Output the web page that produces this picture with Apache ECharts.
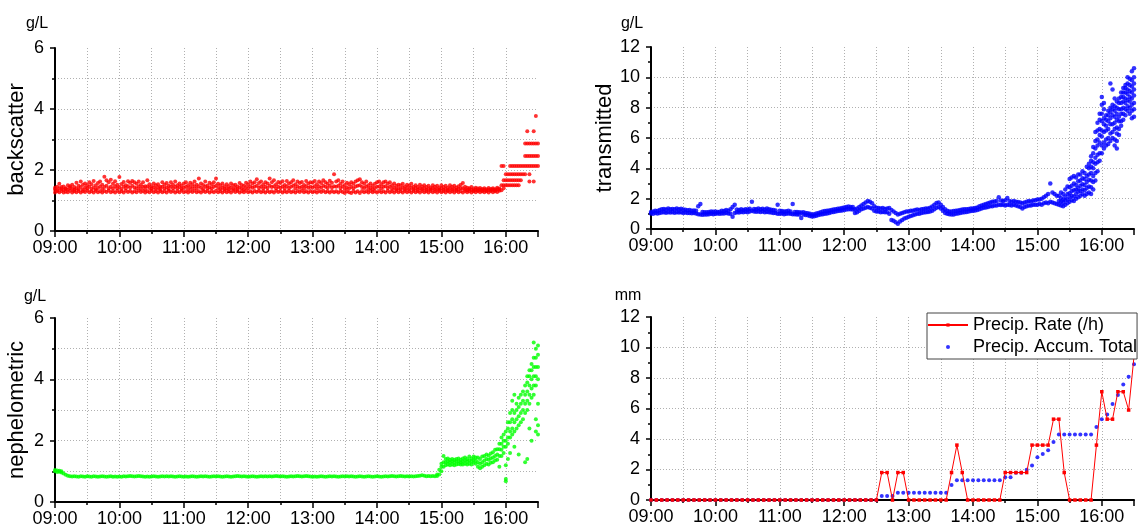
<!DOCTYPE html>
<html>
<head>
<meta charset="utf-8">
<title>Sensor readings and precipitation</title>
<script src="https://cdn.jsdelivr.net/npm/echarts@6/dist/echarts.min.js"></script>
<style>
  html, body { margin: 0; padding: 0; background: #fff; }
  #chart { width: 1142px; height: 529px; }
</style>
</head>
<body>
<div id="chart"></div>
<script>
// time is in minutes after midnight
const dayStart = 540;   // 09:00
const dayEnd = 990;     // 16:30
const cloudStep = 2;    // sensor readings: one column of points every 2 min
const precipStep = 5;   // precipitation readings every 5 min
const timeLabels = ['09:00', '10:00', '11:00', '12:00', '13:00', '14:00', '15:00', '16:00'];

// backscatter g/L, readings seen in each 2-min column from 09:00
const backscatter = [
  [1.26,1.36,1.42],[1.3,1.34,1.45],[1.27,1.4,1.55],[1.31,1.38,1.44],[1.26,1.35,1.46],[1.29,1.4,1.38],[1.27,1.36,1.5],[1.32,1.42,1.47],[1.26,1.38,1.52],[1.3,1.35,1.44],
  [1.27,1.4,1.58],[1.31,1.37,1.48],[1.26,1.44,1.62],[1.3,1.36,1.52],[1.28,1.42,1.56],[1.33,1.39,1.5],[1.27,1.45,1.6],[1.3,1.38,1.53],[1.26,1.43,1.64],[1.32,1.37,1.5],
  [1.27,1.41,1.57],[1.3,1.46,1.62],[1.26,1.38,1.52],[1.31,1.44,1.78],[1.28,1.48,1.66],[1.33,1.4,1.6],[1.27,1.45,1.68],[1.3,1.39,1.55],[1.26,1.47,1.63],[1.32,1.4,1.52],
  [1.27,1.44,1.77],[1.3,1.38,1.54],[1.26,1.46,1.61],[1.32,1.4,1.5],[1.28,1.47,1.63],[1.31,1.42,1.58],[1.26,1.48,1.64],[1.3,1.43,1.6],[1.27,1.4,1.55],[1.33,1.46,1.62],
  [1.28,1.39,1.52],[1.31,1.45,1.6],[1.26,1.37,1.47],[1.3,1.46,1.66],[1.27,1.41,1.53],[1.32,1.38,1.47],[1.27,1.43,1.56],[1.3,1.38,1.5],[1.26,1.42,1.53],[1.31,1.37,1.45],
  [1.27,1.45,1.6],[1.3,1.39,1.52],[1.26,1.43,1.57],[1.32,1.38,1.48],[1.28,1.46,1.6],[1.31,1.4,1.52],[1.26,1.45,1.62],[1.3,1.39,1.5],[1.27,1.44,1.56],[1.33,1.38,1.48],
  [1.27,1.42,1.56],[1.3,1.45,1.6],[1.26,1.38,1.5],[1.31,1.44,1.58],[1.28,1.4,1.53],[1.32,1.46,1.62],[1.27,1.39,1.52],[1.3,1.47,1.72],[1.26,1.42,1.56],[1.31,1.38,1.51],
  [1.28,1.46,1.62],[1.31,1.39,1.49],[1.26,1.43,1.58],[1.3,1.4,1.53],[1.27,1.45,1.6],[1.32,1.48,1.72],[1.27,1.41,1.55],[1.3,1.38,1.5],[1.26,1.42,1.56],[1.31,1.37,1.47],
  [1.27,1.4,1.53],[1.3,1.37,1.47],[1.26,1.42,1.56],[1.32,1.38,1.5],[1.28,1.41,1.52],[1.31,1.36,1.46],[1.26,1.43,1.57],[1.3,1.39,1.51],[1.27,1.37,1.48],[1.32,1.44,1.58],
  [1.27,1.4,1.53],[1.3,1.46,1.62],[1.26,1.42,1.56],[1.31,1.45,1.6],[1.28,1.48,1.7],[1.32,1.42,1.57],[1.27,1.46,1.62],[1.3,1.39,1.52],[1.26,1.45,1.6],[1.31,1.41,1.56],
  [1.27,1.48,1.72],[1.3,1.44,1.6],[1.26,1.47,1.66],[1.32,1.4,1.53],[1.28,1.45,1.61],[1.31,1.42,1.57],[1.26,1.46,1.63],[1.3,1.39,1.51],[1.27,1.47,1.64],[1.32,1.41,1.56],
  [1.27,1.45,1.6],[1.3,1.48,1.66],[1.26,1.4,1.53],[1.31,1.46,1.62],[1.28,1.42,1.57],[1.32,1.45,1.61],[1.27,1.39,1.51],[1.3,1.47,1.64],[1.26,1.42,1.56],[1.31,1.45,1.6],
  [1.27,1.43,1.58],[1.3,1.47,1.64],[1.26,1.4,1.53],[1.31,1.46,1.62],[1.28,1.42,1.57],[1.32,1.48,1.66],[1.27,1.45,1.6],[1.3,1.41,1.55],[1.26,1.48,1.65],[1.31,1.43,1.58],
  [1.27,1.47,1.86],[1.3,1.45,1.62],[1.26,1.48,1.66],[1.31,1.41,1.55],[1.28,1.46,1.62],[1.25,1.38,1.51],[1.3,1.43,1.58],[1.27,1.39,1.53],[1.25,1.45,1.6],[1.3,1.4,1.55],
  [1.26,1.46,1.62],[1.3,1.48,1.66],[1.25,1.5,1.7],[1.31,1.44,1.6],[1.27,1.41,1.55],[1.3,1.46,1.62],[1.26,1.38,1.5],[1.31,1.42,1.56],[1.27,1.37,1.48],[1.3,1.41,1.55],
  [1.26,1.45,1.6],[1.31,1.46,1.62],[1.27,1.4,1.53],[1.3,1.45,1.6],[1.26,1.47,1.62],[1.32,1.41,1.55],[1.27,1.45,1.6],[1.3,1.38,1.5],[1.26,1.42,1.56],[1.31,1.37,1.48],
  [1.27,1.4,1.52],[1.3,1.38,1.5],[1.26,1.42,1.55],[1.31,1.36,1.46],[1.27,1.41,1.52],[1.3,1.37,1.48],[1.26,1.42,1.55],[1.31,1.36,1.45],[1.27,1.4,1.5],[1.3,1.35,1.44],
  [1.26,1.4,1.52],[1.31,1.37,1.46],[1.27,1.39,1.5],[1.3,1.35,1.44],[1.26,1.38,1.48],[1.31,1.36,1.42],[1.27,1.4,1.5],[1.3,1.36,1.45],[1.26,1.38,1.48],[1.31,1.35,1.42],
  [1.27,1.39,1.5],[1.3,1.35,1.44],[1.26,1.38,1.48],[1.31,1.34,1.42],[1.27,1.39,1.5],[1.3,1.36,1.45],[1.26,1.38,1.48],[1.31,1.35,1.43],[1.27,1.37,1.47],[1.3,1.4,1.52],
  [1.26,1.4,1.57],[1.31,1.36,1.45],[1.27,1.34,1.42],[1.3,1.36,1.4],[1.26,1.35,1.44],[1.3,1.34,1.38],[1.27,1.36,1.42],[1.31,1.34,1.39],[1.27,1.35,1.41],[1.3,1.33,1.38],
  [1.27,1.35,1.4],[1.3,1.33,1.37],[1.26,1.35,1.41],[1.31,1.34,1.38],[1.27,1.36,1.4],[1.3,1.34,1.37],[1.28,1.37,1.42],[1.32,1.36,1.39],[1.34,1.5,2.13],[1.4,1.5,1.66,2.13],
  [1.5,1.66,1.86],[1.5,1.66,1.86],[1.5,1.66,1.86,2.13],[1.5,1.66,1.86,2.13],[1.5,1.66,1.86,2.13],[1.5,1.66,1.86,2.13],[1.5,1.66,1.86,2.13],[1.66,1.86,2.13],[1.86,2.13],[1.86,2.13,2.46,2.87],
  [2.13,2.46,2.87,3.27],[1.62,1.86,2.13,2.46,2.87],[2.13,2.46,2.87],[1.62,2.13,2.46,2.87,3.27],[2.13,2.46,2.87,3.77],[2.13,2.46,2.87]
];

// transmitted g/L
const transmitted = [
  [1.02,1.12],[1.0,1.15],[1.05,1.2],[1.03,1.18],[1.06,1.25],[1.08,1.3],[1.1,1.32],[1.07,1.28],[1.1,1.35],[1.08,1.3],
  [1.1,1.32],[1.07,1.3],[1.1,1.35],[1.08,1.3],[1.1,1.33],[1.06,1.28],[1.08,1.27],[1.05,1.24],[1.06,1.25],[1.04,1.2],
  [1.05,1.22],[1.03,1.2],[0.98,1.5],[0.95,1.65],[0.94,1.12],[0.96,1.1],[0.95,1.1],[0.97,1.12],[1.0,1.15],[0.98,1.13],
  [1.0,1.15],[1.02,1.12],[1.0,1.14],[1.03,1.2],[1.02,1.18],[1.05,1.25],[1.03,1.2],[1.0,1.3],[0.8,1.45],[1.05,1.6],
  [1.1,1.28],[1.08,1.25],[1.12,1.3],[1.1,1.25],[1.13,1.3],[1.1,1.28],[1.15,1.33],[1.2,1.8],[1.15,1.32],[1.13,1.3],
  [1.15,1.35],[1.12,1.3],[1.15,1.33],[1.1,1.28],[1.12,1.35],[1.1,1.3],[1.08,1.27],[1.06,1.25],[1.05,1.22],[1.0,1.6],
  [1.0,1.2],[1.02,1.18],[0.98,1.15],[1.0,1.17],[1.02,1.2],[1.0,1.15],[0.98,1.65],[0.97,1.12],[0.95,1.12],[0.96,1.1],
  [0.72,1.08],[0.95,1.1],[0.93,1.06],[0.9,1.04],[0.86,1.0],[0.82,0.96],[0.84,0.98],[0.88,1.02],[0.92,1.06],[0.95,1.1],
  [0.98,1.15],[1.0,1.18],[1.02,1.2],[1.05,1.22],[1.1,1.25],[1.12,1.28],[1.15,1.3],[1.18,1.33],[1.2,1.35],[1.22,1.38],
  [1.25,1.42],[1.28,1.45],[1.3,1.48],[1.3,1.45],[1.28,1.45],[1.05,1.3],[1.1,1.35],[1.2,1.45],[1.3,1.55],[1.35,1.65],
  [1.4,1.75],[1.45,1.85],[1.4,1.8],[1.35,1.7],[1.2,1.5],[1.15,1.4],[1.15,1.38],[1.1,1.35],[1.12,1.38],[1.1,1.32],
  [1.1,1.35],[1.0,1.38],[0.6,1.25],[0.55,1.15],[0.45,1.05],[0.35,0.95],[0.5,1.0],[0.6,1.05],[0.7,1.1],[0.75,1.15],
  [0.8,1.15],[0.85,1.2],[0.9,1.2],[0.95,1.25],[1.0,1.28],[1.0,1.25],[1.05,1.3],[1.08,1.32],[1.1,1.35],[1.12,1.35],
  [1.15,1.4],[1.2,1.48],[1.3,1.6],[1.4,1.72],[1.45,1.75],[1.35,1.6],[1.2,1.45],[1.05,1.3],[1.0,1.2],[0.98,1.15],
  [0.95,1.15],[0.96,1.18],[1.0,1.2],[1.02,1.22],[1.05,1.25],[1.08,1.28],[1.1,1.3],[1.12,1.3],[1.15,1.32],[1.18,1.35],
  [1.2,1.35],[1.22,1.38],[1.25,1.42],[1.3,1.5],[1.35,1.55],[1.4,1.6],[1.42,1.65],[1.45,1.7],[1.5,1.75],[1.5,1.8],
  [1.55,1.82],[1.55,1.85],[1.6,2.1],[1.58,1.88],[1.6,1.85],[1.55,1.9],[1.6,2.05],[1.58,1.85],[1.55,1.8],[1.6,1.85],
  [1.55,1.8],[1.5,1.78],[1.45,1.75],[1.35,1.7],[1.45,1.75],[1.5,1.8],[1.55,1.85],[1.55,1.82],[1.6,1.88],[1.6,1.9],
  [1.6,1.95],[1.65,1.95],[1.6,2.0],[1.7,2.1],[1.75,2.2],[1.7,2.3],[1.8,3.0],[1.75,2.4],[1.7,2.3],[1.65,2.2],
  [1.6,1.85,2.2],[1.55,1.8,2.05,2.4],[1.5,1.75,1.95,2.3],[1.6,1.9,2.15,2.6],[1.7,1.95,2.3,2.8],[1.8,2.1,2.35,2.75,3.3],[1.9,2.2,2.5,2.85,3.4],[1.85,2.15,2.55,3.0,3.5],[2.0,2.3,2.6,2.9,3.4],[2.1,2.45,2.7,3.15,3.6],
  [2.2,2.5,2.85,3.2,3.6],[2.3,2.6,2.95,3.35,3.8],[2.2,2.55,2.9,3.3,3.7],[2.3,2.7,3.1,3.5,4.1],[2.4,2.8,3.25,3.6,4.0,4.3],[2.3,2.75,3.2,3.7,4.1,4.5,4.8],[2.6,3.1,3.5,4.0,4.4,5.0,5.4],[3.2,3.7,4.3,4.7,5.3,5.8,6.4],[3.8,4.4,4.9,5.5,5.9,6.5,7.0],[4.5,5.0,5.7,6.2,6.6,7.2,7.6],
  [5.0,5.5,6.1,6.5,7.1,7.6,8.2,8.7],[5.3,5.7,6.4,6.9,7.3,7.9,8.3],[5.5,5.9,6.5,6.8,7.2,7.5],[5.6,6.0,6.6,7.1,7.5,7.8],[5.8,6.3,6.9,7.3,7.7,8.0,9.6],[6.0,6.4,6.9,7.5,7.9,8.2,9.2],[5.5,5.9,6.6,7.0,7.4,7.8,8.1,8.6],[5.3,5.8,6.3,6.7,7.2,7.6,8.0,8.4],[6.2,6.6,7.1,7.4,7.9,8.3,8.6],[6.8,7.1,7.6,7.9,8.3,8.7,9.0],
  [7.2,7.6,8.0,8.4,8.7,9.0,9.3],[7.5,7.9,8.3,8.6,9.0,9.3,9.5],[7.8,8.1,8.5,8.9,9.2,9.6,10.0],[7.6,8.0,8.4,8.7,9.1,9.5,9.9],[7.3,7.8,8.2,8.6,9.0,9.4,9.8,10.4],[7.4,7.9,8.3,8.8,9.2,9.6,10.0,10.6]
];

// nephelometric g/L
const nephelometric = [
  [1.0,1.04],[0.98,1.03],[0.99,1.02],[0.96,1.0],0.93,0.89,0.86,0.84,0.83,0.84,
  0.83,0.82,0.84,0.83,0.82,0.84,0.83,0.82,0.84,0.83,
  0.82,0.83,0.84,0.83,0.82,0.83,0.84,0.82,0.83,0.82,
  0.83,0.82,0.84,0.83,0.84,0.85,0.84,0.83,0.84,0.85,
  0.84,0.83,0.82,0.83,0.82,0.83,0.84,0.83,0.82,0.83,
  0.84,0.83,0.84,0.83,0.84,0.83,0.82,0.83,0.84,0.83,
  0.82,0.83,0.82,0.83,0.84,0.83,0.82,0.83,0.84,0.83,
  0.84,0.83,0.82,0.83,0.84,0.83,0.84,0.83,0.82,0.83,
  0.84,0.83,0.82,0.83,0.84,0.85,0.84,0.83,0.84,0.83,
  0.82,0.83,0.84,0.83,0.82,0.83,0.84,0.83,0.84,0.83,
  0.84,0.83,0.84,0.85,0.84,0.83,0.84,0.83,0.82,0.83,
  0.84,0.83,0.84,0.85,0.84,0.83,0.84,0.85,0.84,0.83,
  0.82,0.83,0.82,0.83,0.84,0.83,0.82,0.83,0.84,0.83,
  0.84,0.83,0.82,0.83,0.84,0.83,0.84,0.83,0.84,0.83,
  0.82,0.83,0.84,0.83,0.82,0.83,0.84,0.83,0.82,0.83,
  0.84,0.83,0.82,0.83,0.84,0.83,0.84,0.85,0.84,0.83,
  0.84,0.85,0.84,0.83,0.84,0.83,0.84,0.83,0.84,0.85,
  0.86,0.87,0.86,0.84,0.85,0.84,0.85,0.84,[0.85,0.9],[0.9,1.05],
  [1.0,1.15,1.25],[1.15,1.3,1.5],[1.2,1.3,1.4],[1.22,1.32,1.42],[1.2,1.3,1.38],[1.22,1.32,1.4],[1.2,1.3,1.38],[1.22,1.33,1.4],[1.24,1.32,1.42],[1.22,1.3,1.38],
  [1.22,1.32,1.42],[1.25,1.35,1.45],[1.22,1.32,1.4],[1.25,1.35,1.48],[1.22,1.33,1.42],[1.28,1.38,1.48],[1.25,1.35,1.45],[1.15,1.3,1.45],[1.1,1.25,1.4],[1.15,1.3,1.48],
  [1.2,1.35,1.5],[1.25,1.4,1.55],[1.22,1.38,1.52],[1.28,1.42,1.58],[1.3,1.45,1.62],[1.35,1.5,1.7],[1.38,1.55,1.72],[1.15,1.5,1.72,1.9],[1.5,1.7,1.9,2.1],[1.6,1.8,2.0,2.2],
  [0.68,0.75,1.2,1.8,2.0,2.3],[1.4,1.9,2.1,2.4,2.6],[1.6,2.1,2.3,2.6,2.9],[2.2,2.4,2.7,3.0,3.3],[1.8,2.3,2.6,2.9,3.5],[2.4,2.7,3.0,3.2],[1.55,2.5,2.8,3.1,3.4],[2.6,2.9,3.2,3.5],[2.7,3.0,3.3,3.6],[1.3,2.9,3.2,3.5,3.8],
  [1.4,3.0,3.3,3.6,3.9,4.1],[2.4,3.2,3.5,3.8,4.1,4.3],[2.0,3.4,3.7,4.0,4.3,4.5],[3.5,3.8,4.1,4.4,4.7,5.2],[2.3,2.7,3.8,4.1,4.4,4.7,5.0],[2.2,2.5,3.2,4.0,4.4,4.8,5.1]
];

// precipitation, mm, every 5 min from 09:00
const precipRate = [
  0,0,0,0,0,0,0,0,0,0, 0,0,0,0,0,0,0,0,0,0, 0,0,0,0,0,0,0,0,0,0, 0,0,0,0,0,0,0,0,0,0, 0,0,0,
  1.8,1.8,0,1.8,1.8,0,0,0,0,0,0,0,0,1.8,3.6,1.8,0,0,0,0,0,0,0,
  1.8,1.8,1.8,1.8,1.8,3.6,3.6,3.6,3.6,5.3,5.3,1.8,0,0,0,0,0,
  3.6,7.1,5.3,5.3,7.1,7.1,5.9,9.4
];
const precipAccum = [
  0,0,0,0,0,0,0,0,0,0, 0,0,0,0,0,0,0,0,0,0, 0,0,0,0,0,0,0,0,0,0, 0,0,0,0,0,0,0,0,0,0, 0,0,0,
  0.26,0.26,0.26,0.48,0.48,0.48,0.48,0.48,0.48,0.48,0.48,0.48,0.48,0.99,
  1.3,1.3,1.3,1.3,1.3,1.3,1.3,1.3,1.3,1.49,1.49,1.78,1.78,1.98,2.26,2.81,3.01,3.27,3.8,
  4.29,4.29,4.29,4.29,4.29,4.29,4.29,4.79,5.3,5.6,6.29,6.88,7.58,8.09,8.9
];

const font = 'Liberation Sans, Arial, sans-serif';
const gridLine = { color: '#b0b0b0', type: [1, 2], width: 1 };

function cloudPoints(cols) {
  const pts = [];
  cols.forEach((c, i) => {
    [].concat(c).forEach(v => pts.push([dayStart + i * cloudStep, v]));
  });
  return pts;
}
function precipPoints(vals) {
  return vals.map((v, i) => [dayStart + i * precipStep, v]);
}

const grids = [
  { left: 55, top: 48, width: 483, height: 183 },
  { left: 651, top: 47, width: 483, height: 182 },
  { left: 55, top: 318, width: 483, height: 184 },
  { left: 651, top: 317, width: 483, height: 183 }
];

// half-hour axis: grid lines, short ticks, hour labels
function timeAxis(i) {
  return {
    gridIndex: i, type: 'value', position: 'bottom', min: dayStart, max: dayEnd, interval: 30,
    axisLine: { onZero: false, lineStyle: { color: '#000', width: 2 } },
    axisTick: { length: 3, lineStyle: { color: '#000', width: 1.5 } },
    axisLabel: {
      color: '#000', fontSize: 18, fontFamily: font, margin: 8,
      formatter: v => ((v - dayStart) % 60 === 0 ? timeLabels[(v - dayStart) / 60] || '' : '')
    },
    splitLine: { show: true, showMinLine: false, showMaxLine: false, lineStyle: gridLine }
  };
}
// hour ticks, longer
function hourAxis(i) {
  return {
    gridIndex: i, type: 'value', position: 'bottom', min: dayStart, max: dayEnd, interval: 60,
    axisLine: { show: false, onZero: false },
    axisTick: { length: 6, lineStyle: { color: '#000', width: 1.5 } },
    axisLabel: { show: false },
    splitLine: { show: false }
  };
}
function valueAxis(i, max, name, nameGap, minorGrid) {
  return {
    gridIndex: i, type: 'value', position: 'left', min: 0, max: max, interval: 2,
    name: name, nameLocation: 'middle', nameGap: nameGap,
    nameTextStyle: { fontSize: 22, fontFamily: font, color: '#000' },
    axisLine: { show: true, lineStyle: { color: '#000', width: 2 } },
    axisTick: { show: true, length: 5, lineStyle: { color: '#000', width: 1.5 } },
    minorTick: { show: true, splitNumber: 2, length: 3, lineStyle: { color: '#000', width: 1.5 } },
    axisLabel: { color: '#000', fontSize: 18, fontFamily: font, margin: 11 },
    splitLine: { show: true, showMinLine: false, showMaxLine: false, lineStyle: gridLine },
    minorSplitLine: { show: minorGrid, lineStyle: gridLine }
  };
}

function unitText(x, y, text) {
  return {
    type: 'text', x: x, y: y,
    style: { text: text, fontSize: 16, fontFamily: font, fill: '#000', align: 'center', verticalAlign: 'middle' }
  };
}

const option = {
  animation: false,
  backgroundColor: '#fff',
  grid: grids,
  xAxis: [timeAxis(0), timeAxis(1), timeAxis(2), timeAxis(3), hourAxis(0), hourAxis(1), hourAxis(2), hourAxis(3)],
  yAxis: [
    valueAxis(0, 6, 'backscatter', 27, true),
    valueAxis(1, 12, 'transmitted', 34, false),
    valueAxis(2, 6, 'nephelometric', 27, true),
    valueAxis(3, 12, '', 34, false)
  ],
  graphic: [
    unitText(37, 24, 'g/L'),
    unitText(632, 24, 'g/L'),
    unitText(35, 297, 'g/L'),
    unitText(628, 296, 'mm')
  ],
  legend: {
    left: 927, top: 313, orient: 'vertical',
    padding: [3, 0, 3, 0], itemGap: 4, itemWidth: 40, itemHeight: 4,
    backgroundColor: '#fff', borderColor: '#444', borderWidth: 1, borderRadius: 0,
    textStyle: { fontSize: 18, fontFamily: font, color: '#000' },
    data: ['Precip. Rate (/h)', 'Precip. Accum. Total']
  },
  series: [
    {
      type: 'scatter', xAxisIndex: 0, yAxisIndex: 0, symbol: 'circle', symbolSize: 4,
      itemStyle: { color: '#ff0000' }, data: cloudPoints(backscatter)
    },
    {
      type: 'scatter', xAxisIndex: 1, yAxisIndex: 1, symbol: 'circle', symbolSize: 4.5,
      itemStyle: { color: '#0000ff' }, data: cloudPoints(transmitted)
    },
    {
      type: 'scatter', xAxisIndex: 2, yAxisIndex: 2, symbol: 'circle', symbolSize: 4,
      itemStyle: { color: '#00ff00' }, data: cloudPoints(nephelometric)
    },
    {
      name: 'Precip. Rate (/h)', type: 'line', xAxisIndex: 3, yAxisIndex: 3,
      symbol: 'rect', symbolSize: 3.5, showSymbol: true,
      lineStyle: { color: '#ff0000', width: 1 }, itemStyle: { color: '#ff0000' },
      data: precipPoints(precipRate)
    },
    {
      name: 'Precip. Accum. Total', type: 'scatter', xAxisIndex: 3, yAxisIndex: 3,
      symbol: 'circle', symbolSize: 4, itemStyle: { color: '#0000ff' },
      data: precipPoints(precipAccum)
    }
  ]
};

const chart = echarts.init(document.getElementById('chart'));
chart.setOption(option);
</script>
</body>
</html>
